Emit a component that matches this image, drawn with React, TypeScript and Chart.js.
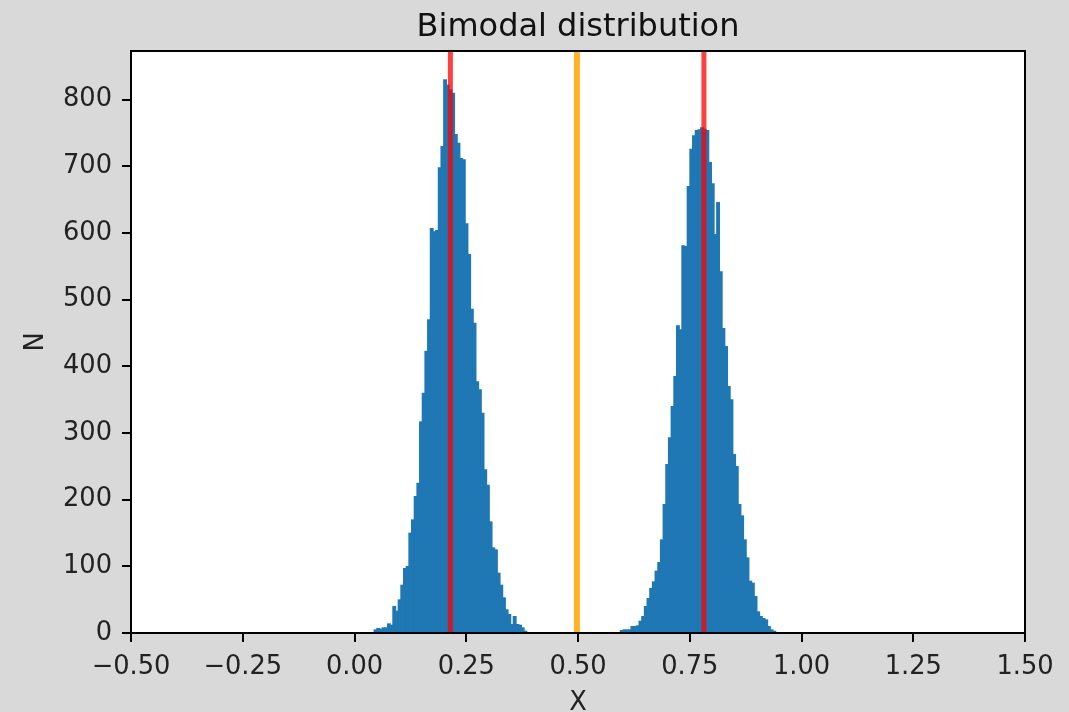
import React, { useEffect, useRef } from 'react';
import { Chart, registerables } from 'chart.js';

Chart.register(...registerables);

// Histogram bins (150 equal-width bins)
const BIN_START = 0.044;
const BIN_WIDTH = 0.005987;

const leftPeakCounts = [
  5, 7, 6, 8, 8, 14, 12, 40, 33, 50,
  72, 97, 100, 150, 170, 205, 225, 317, 360, 423,
  470, 607, 602, 604, 698, 730, 830, 822, 815, 810,
  748, 735, 712, 710, 614, 568, 486, 465, 377, 365,
  330, 245, 222, 167, 128, 125, 90, 72, 53, 35,
  28, 13, 25, 13, 12, 8, 3,
];

const gapCounts = [
  0, 0, 0, 0, 0, 0, 0, 0, 0, 0,
  0, 0, 0, 0, 0, 0, 0, 0, 0, 0,
  0, 0, 0, 0, 0, 0, 0, 0, 0, 0,
  0, 0, 0, 0, 0,
];

const rightPeakCounts = [
  4, 5, 5, 5, 10, 10, 11, 18, 25, 40,
  52, 67, 77, 93, 106, 140, 193, 253, 293, 340,
  385, 461, 455, 581, 580, 670, 726, 746, 754, 755,
  758, 756, 754, 706, 674, 598, 646, 542, 457, 430,
  370, 350, 268, 250, 193, 176, 140, 113, 78, 75,
  55, 32, 25, 22, 20, 10, 5, 3,
];

const peakMeans = [0.2145, 0.7817];
const overallMean = 0.4976;

const xTicks = [-0.5, -0.25, 0, 0.25, 0.5, 0.75, 1.0, 1.25, 1.5];
const yTicks = [0, 100, 200, 300, 400, 500, 600, 700, 800];
const X_MIN = -0.5;
const X_MAX = 1.5;
const Y_MAX = 873;

const TITLE = 'Bimodal distribution';
const FONT = 'DejaVu Sans';
const BG = '#d9d9d9';
const TICK_SIZE = 25.7;

export default function App() {
  const ref = useRef<HTMLCanvasElement>(null);

  useEffect(() => {
    const counts = [...leftPeakCounts, ...gapCounts, ...rightPeakCounts];
    const histData = counts.map((c, i) => ({ x: BIN_START + (i + 0.5) * BIN_WIDTH, y: c }));

    const vline = (x: number) => [
      { x, y: 0 },
      { x, y: Y_MAX },
    ];

    const framePlugin = {
      id: 'frame',
      beforeDraw(chart: any) {
        const { ctx, chartArea } = chart;
        ctx.save();
        ctx.fillStyle = BG;
        ctx.fillRect(0, 0, chart.width, chart.height);
        ctx.fillStyle = '#ffffff';
        ctx.fillRect(chartArea.left, chartArea.top, chartArea.right - chartArea.left, chartArea.bottom - chartArea.top);
        ctx.restore();
      },
      afterDatasetsDraw(chart: any) {
        const { ctx, chartArea } = chart;
        ctx.save();
        ctx.strokeStyle = '#000';
        ctx.lineWidth = 2;
        ctx.strokeRect(chartArea.left, chartArea.top, chartArea.right - chartArea.left, chartArea.bottom - chartArea.top);
        ctx.restore();
      },
      afterDraw(chart: any) {
        const { ctx, chartArea } = chart;
        ctx.save();
        ctx.fillStyle = '#111';
        ctx.font = `32px "${FONT}"`;
        ctx.textAlign = 'center';
        ctx.textBaseline = 'alphabetic';
        ctx.fillText(TITLE, (chartArea.left + chartArea.right) / 2, 36);
        ctx.restore();
      },
    };

    const chart = new Chart(ref.current!, {
      type: 'bar',
      data: {
        datasets: [
          {
            type: 'line',
            label: 'peak mean 1',
            data: vline(peakMeans[0]),
            borderColor: 'rgba(255,0,0,0.75)',
            borderWidth: 5,
            pointRadius: 0,
            fill: false,
            order: 1,
          },
          {
            type: 'line',
            label: 'peak mean 2',
            data: vline(peakMeans[1]),
            borderColor: 'rgba(255,0,0,0.75)',
            borderWidth: 5,
            pointRadius: 0,
            fill: false,
            order: 1,
          },
          {
            type: 'line',
            label: 'mean',
            data: vline(overallMean),
            borderColor: 'rgba(255,165,0,0.85)',
            borderWidth: 6,
            pointRadius: 0,
            fill: false,
            order: 1,
          },
          {
            type: 'bar',
            label: 'N',
            data: histData,
            backgroundColor: '#1f77b4',
            borderWidth: 0,
            barThickness: 3.25,
            order: 2,
          },
        ],
      },
      options: {
        responsive: false,
        animation: false,
        devicePixelRatio: 1,
        layout: { padding: { left: 0, right: 44, top: 51, bottom: 0 } },
        plugins: {
          legend: { display: false },
          tooltip: { enabled: false },
          title: { display: false },
        },
        scales: {
          x: {
            type: 'linear',
            min: X_MIN,
            max: X_MAX,
            offset: false,
            afterBuildTicks: (s: any) => {
              s.ticks = xTicks.map((v) => ({ value: v }));
            },
            afterFit: (s: any) => {
              s.height = 79;
            },
            grid: {
              display: true,
              offset: false,
              drawOnChartArea: false,
              drawTicks: true,
              tickLength: 9,
              color: '#000',
              lineWidth: 2,
            },
            border: { display: false },
            ticks: {
              autoSkip: false,
              maxRotation: 0,
              padding: 10,
              color: '#222',
              font: { family: FONT, size: TICK_SIZE },
              callback: (v: any) => Number(v).toFixed(2).replace('-', '\u2212'),
            },
            title: {
              display: true,
              text: 'X',
              color: '#222',
              font: { family: FONT, size: TICK_SIZE },
              padding: { top: 0, bottom: -7 },
            },
          },
          y: {
            type: 'linear',
            min: 0,
            max: Y_MAX,
            afterBuildTicks: (s: any) => {
              s.ticks = yTicks.map((v) => ({ value: v }));
            },
            afterFit: (s: any) => {
              s.width = 131;
            },
            grid: {
              display: true,
              drawOnChartArea: false,
              drawTicks: true,
              tickLength: 9,
              color: '#000',
              lineWidth: 2,
            },
            border: { display: false },
            ticks: {
              padding: 10,
              color: '#222',
              font: { family: FONT, size: TICK_SIZE },
              callback: (v: any) => String(v),
            },
            title: {
              display: true,
              text: 'N',
              color: '#222',
              font: { family: FONT, size: TICK_SIZE },
              padding: { top: 21, bottom: 0 },
            },
          },
        },
      },
      plugins: [framePlugin],
    } as any);

    return () => chart.destroy();
  }, []);

  return (
    <div
      style={{
        position: 'fixed',
        left: 0,
        top: 0,
        width: 1069,
        height: 712,
        overflow: 'hidden',
        background: BG,
      }}
    >
      <canvas ref={ref} width={1069} height={712} style={{ display: 'block', width: 1069, height: 712 }} />
    </div>
  );
}
